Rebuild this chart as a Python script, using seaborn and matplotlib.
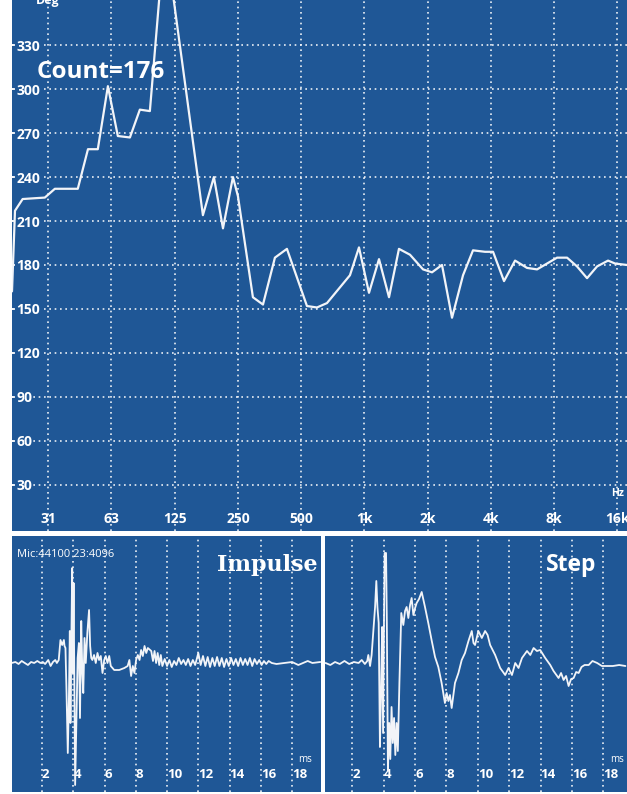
import pandas as pd
import matplotlib.pyplot as plt
import seaborn as sns
from matplotlib.ticker import NullLocator

# phase response (top panel)
phase_freq = [21.0, 21.7, 23.6, 30.1, 33.6, 43.2, 48.3, 53.8, 60.1, 67.0, 76.5, 85.3, 95.2,
              107.4, 119.9, 170.3, 192.1, 212.2, 236.7, 250, 294.6, 329, 375, 427.8, 532.9,
              594.6, 663.5, 853.8, 942.6, 1052, 1174, 1310, 1461, 1649, 1902, 2099, 2342,
              2614, 2949, 3290, 3753, 4098, 4623, 5217, 5950, 6640, 8268, 9227, 10295,
              11488, 12818, 14460, 15612, 17815]
phase_deg = [162, 217, 225, 226, 232, 232, 259, 259, 302, 268, 267, 286, 285,
             375, 375, 214, 240, 205, 240, 227, 158, 153, 185, 191, 152,
             151, 154, 173, 192, 161, 184, 158, 191, 187, 177, 175, 180,
             144, 173, 190, 189, 189, 169, 183, 178, 177, 185, 185, 179,
             171, 179, 183, 181, 180]
freq_ticks = [31.25, 62.5, 125, 250, 500, 1000, 2000, 4000, 8000, 16000]
freq_labels = ['31', '63', '125', '250', '500', '1k', '2k', '4k', '8k', '16k']
deg_ticks = [30, 60, 90, 120, 150, 180, 210, 240, 270, 300, 330]

# impulse response (bottom left)
imp_t = [0.05, 0.3, 0.5, 0.7, 0.9, 1.1, 1.3, 1.5, 1.7, 1.9, 2.05, 2.2, 2.4, 2.55, 2.7,
         2.85, 2.95, 3.07, 3.18, 3.29, 3.40, 3.44, 3.50, 3.57, 3.65, 3.72, 3.78, 3.82,
         3.93, 3.97, 4.02, 4.12, 4.20, 4.28, 4.36, 4.43, 4.51, 4.58, 4.64, 4.72, 4.80,
         4.90, 5.01, 5.08, 5.15, 5.22, 5.33, 5.44, 5.55, 5.65, 5.76, 5.87, 5.98, 6.08,
         6.19, 6.30, 6.40, 6.62, 6.94, 7.27, 7.48, 7.59, 7.70, 7.81, 7.91, 8.02, 8.13,
         8.24, 8.34, 8.45, 8.56, 8.67, 8.77, 8.99, 9.1, 9.2, 9.3, 9.4, 9.5, 9.6, 9.7,
         9.85, 10.0, 10.15, 10.3, 10.45, 10.6, 10.75, 10.9, 11.05, 11.2, 11.35, 11.5,
         11.65, 11.8, 12.0, 12.15, 12.3, 12.45, 12.6, 12.75, 12.9, 13.05, 13.2, 13.35,
         13.5, 13.65, 13.8, 13.95, 14.1, 14.25, 14.4, 14.55, 14.7, 14.85, 15.0, 15.15,
         15.3, 15.45, 15.6, 15.75, 15.9, 16.05, 16.2, 16.35, 16.5, 16.7, 17.0, 17.5,
         18.0, 18.4, 18.7, 19.0, 19.3, 19.8]
imp_amp = [0, 1, -1, 2, 0, -2, 1, 0, 2, 0, 1, -1, 3, -3, 1,
           3, 0, 3, 23, 18, 23, 17, 15, -30, -90, -37, 32, -60,
           95, -10, 80, -122, -60, 5, 20, -55, 42, -10, -30, 25, 0,
           30, 53, 17, 5, 3, 8, 0, 10, 3, 7, -10, 3, 7,
           0, 7, -3, -7, -7, -5, -3, 3, -13, -3, -10, 3, 8,
           3, 13, 7, 17, 10, 15, 12, 2, 12, 0, 10, -2, 8, -3,
           4, -3, 3, -4, 2, -2, 5, -1, 3, -2, 4, -3,
           3, -2, 10, -2, 7, -3, 6, -4, 5, -3, 6, -3,
           5, -4, 4, -3, 5, -2, 4, -3, 5, -2, 4, -2,
           5, -3, 4, -1, 3, -2, 2, -1, 2, 0, -1, 0,
           1, -2, 0, 2, 0, 1]

# step response (bottom right)
step_t = [0.3, 0.6, 0.9, 1.2, 1.5, 1.8, 2.1, 2.4, 2.6, 2.8, 2.95, 3.02, 3.13, 3.23, 3.34,
          3.45, 3.53, 3.60, 3.68, 3.76, 3.83, 3.90, 3.96, 4.02, 4.06, 4.15, 4.20, 4.27,
          4.35, 4.42, 4.50, 4.58, 4.66, 4.74, 4.82, 4.90, 5.00, 5.12, 5.25, 5.36, 5.46,
          5.57, 5.68, 5.78, 5.89, 6.00, 6.10, 6.25, 6.42, 6.63, 6.84, 7.05, 7.27, 7.48,
          7.69, 7.90, 8.01, 8.12, 8.22, 8.33, 8.54, 8.76, 8.97, 9.18, 9.40, 9.61, 9.72,
          9.82, 10.03, 10.25, 10.46, 10.62, 10.78, 11.1, 11.42, 11.74, 11.95, 12.17, 12.38,
          12.59, 12.81, 13.13, 13.34, 13.55, 13.76, 13.97, 14.29, 14.61, 14.82, 15.14,
          15.30, 15.46, 15.62, 15.78, 15.94, 16.1, 16.26, 16.42, 16.6, 16.8, 17.06, 17.3,
          17.6, 17.9, 18.2, 18.6, 19.0, 19.4]
step_amp = [0, -2, 1, -1, 2, -1, 1, 0, 3, -1, 2, 8, -3, 8, 32,
            56, 82, 56, 40, -84, -30, 36, -70, 45, 110, 110, 40, -108,
            -60, -96, -44, -80, -55, -92, -60, -88, -20, 50, 38, 52, 56,
            45, 58, 65, 48, 55, 60, 64, 71, 56, 40, 23, 6, -4,
            -20, -40, -30, -38, -32, -45, -20, -10, 3, 10, 22, 32, 20,
            18, 32, 25, 32, 28, 18, 8, -5, -12, -5, -12, 0,
            -5, 5, 12, 8, 15, 12, 13, 5, -2, -8, -15,
            -10, -17, -13, -23, -16, -15, -9, -10, -4, -2, -2, 2,
            0, -3, -3, -3, -2, -3]
ms_ticks = [2, 4, 6, 8, 10, 12, 14, 16, 18]

BG = '#1f5796'
LINE = '#f2f4f8'

sns.set_theme(style='dark', rc={'axes.facecolor': BG, 'figure.facecolor': 'white'})
plt.rcParams['font.family'] = ['Open Sans', 'DejaVu Sans']

fig = plt.figure(figsize=(6.27, 7.94), dpi=100)
ax = fig.add_axes([12 / 627, 1 - 531 / 794, 615 / 627, 531 / 794])
ax_imp = fig.add_axes([12 / 627, 2 / 794, 309 / 627, 256 / 794])
ax_step = fig.add_axes([325 / 627, 2 / 794, 302 / 627, 256 / 794])

grid_kw = dict(color='white', lw=1.2, ls=(0, (1, 2.2)), alpha=0.9)

# top: phase
phase = pd.DataFrame({'freq': phase_freq, 'deg': phase_deg})
sns.lineplot(data=phase, x='freq', y='deg', ax=ax, color=LINE, lw=1.6,
             estimator=None, sort=False)
ax.set_xscale('log', base=2)
ax.set_xlim(21.0, 17800)
ax.set_ylim(-1.5, 360.8)
ax.set_xticks(freq_ticks)
ax.set_xticklabels(freq_labels)
ax.xaxis.set_minor_locator(NullLocator())
ax.set_yticks(deg_ticks)
ax.set_yticklabels([str(d) for d in deg_ticks], ha='left')
ax.grid(True, **grid_kw)
ax.tick_params(axis='x', length=0, pad=-14, labelsize=10, labelcolor='white')
ax.tick_params(axis='y', direction='in', left=True, length=3, width=1.2, color='white',
               pad=-3, labelsize=10, labelcolor='white')
plt.setp(ax.get_xticklabels() + ax.get_yticklabels(), fontweight='bold')
for lab in ax.get_yticklabels():
    lab.set_bbox(dict(fc=BG, ec='none', pad=0.6))
ax.set_xlabel('')
ax.set_ylabel('')
ax.text(0.0407, 0.864, 'Count=176', transform=ax.transAxes, color='white',
        fontsize=17.5, fontweight='bold', va='center', ha='left')
ax.text(0.0585, 0.999, 'Deg', transform=ax.transAxes, color='white', fontsize=9,
        fontweight='bold', va='center', ha='center', clip_on=True)
ax.text(16000, 24, 'Hz', color='white', fontsize=7.5, fontweight='bold',
        ha='center', va='center')

# bottom: impulse and step
imp = pd.DataFrame({'t': imp_t, 'amp': imp_amp})
step = pd.DataFrame({'t': step_t, 'amp': step_amp})
panels = [(ax_imp, imp, (0.08, 19.85)), (ax_step, step, (0.26, 19.5))]
for a, df, xl in panels:
    sns.lineplot(data=df, x='t', y='amp', ax=a, color=LINE, lw=1.3,
                 estimator=None, sort=False)
    a.set_xlim(*xl)
    a.set_ylim(-129, 127)
    a.set_xticks(ms_ticks)
    a.set_xticklabels([str(m) for m in ms_ticks], ha='left')
    a.set_yticks([])
    a.grid(True, axis='x', **grid_kw)
    a.tick_params(axis='x', length=0, pad=-17, labelsize=9.5, labelcolor='white')
    plt.setp(a.get_xticklabels(), fontweight='bold')
    a.set_xlabel('')
    a.set_ylabel('')
    a.text(18.4, 0.128, 'ms', transform=a.get_xaxis_transform(), color='white',
           fontsize=7, ha='left', va='center')

for a in [ax, ax_imp, ax_step]:
    for s in a.spines.values():
        s.set_visible(False)

ax_imp.text(0.016, 0.926, 'Mic:44100 23:4096', transform=ax_imp.transAxes,
            color='white', fontsize=8, ha='left', va='center')
ax_imp.text(0.99, 0.887, 'Impulse', transform=ax_imp.transAxes, color='white',
            fontsize=16, fontweight='bold', family=['DejaVu Serif'], ha='right', va='center')
ax_step.text(0.90, 0.887, 'Step', transform=ax_step.transAxes, color='white',
             fontsize=16.5, fontweight='bold', ha='right', va='center')

fig.savefig('out.png', dpi=100)
